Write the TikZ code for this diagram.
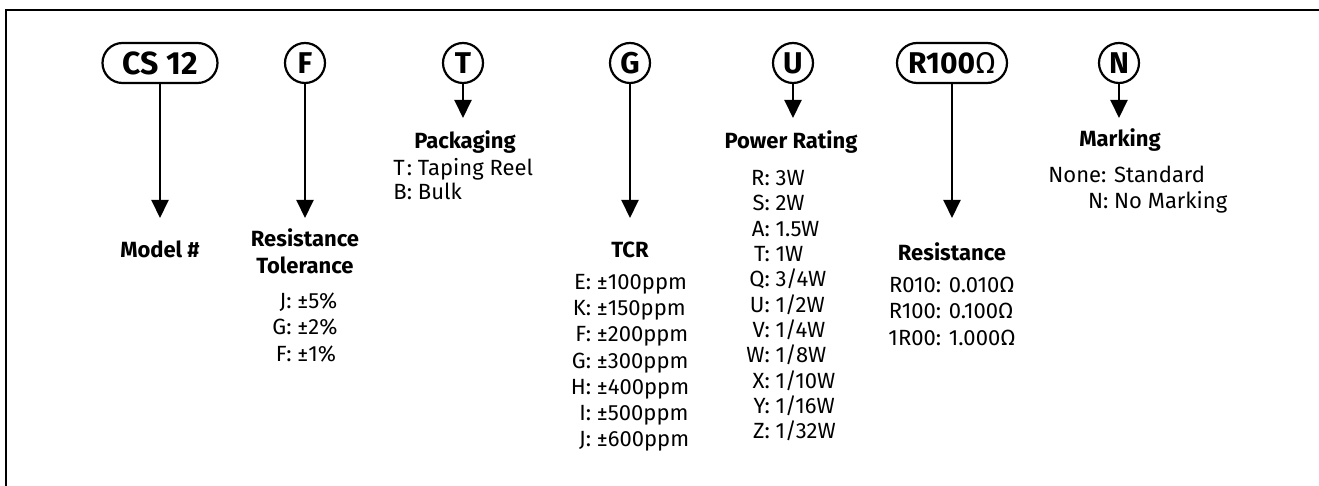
\documentclass[tikz,border=0pt]{standalone}
\usepackage{fontspec}
\setmainfont{Fira Sans}
\usetikzlibrary{arrows.meta,positioning}

\begin{document}
\begin{tikzpicture}[
  x=0.5pt, y=-0.5pt,
  >={Triangle[width=8.5pt,length=9pt]},
  code/.style={draw, circle, line width=1.1pt, minimum size=20pt, inner sep=0pt,
    font=\fontsize{15}{17}\selectfont\bfseries},
  pill/.style={draw, rounded corners=10pt, line width=1.1pt, minimum height=20pt,
    inner sep=0pt, font=\fontsize{15}{17}\selectfont\bfseries},
  title/.style={anchor=north, inner sep=0pt, align=center,
    font=\fontsize{11}{13.5}\selectfont\bfseries},
  list/.style={anchor=north, inner sep=0pt, font=\fontsize{11}{#1}\selectfont},
  list/.default=13.1,
  arrow/.style={->, line width=1pt, shorten >=#1},
  arrow/.default=5.5pt
]

% Frame (only top and left edges fall inside the page)
\useasboundingbox (0,0) rectangle (1319,486);
\draw[line width=1pt] (6,486) -- (6,10) -- (1319,10);

% Part number fields
\node[pill, minimum width=57.5pt, font=\fontsize{16}{18}\selectfont\bfseries] (cs) at (160,63) {CS 12};
\node[code] (tol) at (305,63) {F};
\node[code] (pkg) at (463,63) {T};
\node[code] (tcr) at (630,63) {G};
\node[code] (pwr) at (793,63) {U};
\node[pill, minimum width=55pt] (res) at (952,63) {R100\textmd{Ω}};
\node[code] (mrk) at (1119,63) {N};

% Field titles
\node[title] (csl) at (160,240) {Model \#};
\node[title] (toll) at (305,228) {Resistance\\Tolerance};
\node[title] (pkgl) at (465,130) {Packaging};
\node[title] (tcrl) at (630,241) {TCR};
\node[title] (pwrl) at (791,130) {Power Rating};
\node[title] (resl) at (952,242) {Resistance};
\node[title] (mrkl) at (1120,128) {Marking};

% Code tables
\node[list, below=8pt of toll] (tolv) {\begin{tabular}{@{}r@{: }l@{}}
  J & ±5\% \\ G & ±2\% \\ F & ±1\% \end{tabular}};
\node[list=12pt, anchor=north west] (pkgv) at (393,158) {\begin{tabular}{@{}l@{: }l@{}}
  T & Taping Reel \\ B & Bulk \end{tabular}};
\node[list, below=6.5pt of tcrl] (tcrv) {\begin{tabular}{@{}r@{: }l@{}}
  E & ±100ppm \\ K & ±150ppm \\ F & ±200ppm \\ G & ±300ppm \\
  H & ±400ppm \\ I & ±500ppm \\ J & ±600ppm \end{tabular}};
\node[list=12.65pt, below=7pt of pwrl] (pwrv) {\begin{tabular}{@{}r@{: }l@{}}
  R & 3W \\ S & 2W \\ A & 1.5W \\ T & 1W \\ Q & 3/4W \\ U & 1/2W \\
  V & 1/4W \\ W & 1/8W \\ X & 1/10W \\ Y & 1/16W \\ Z & 1/32W \end{tabular}};
\node[list, below=6.5pt of resl] (resv) {\begin{tabular}{@{}r@{: }l@{}}
  R010 & 0.010Ω \\ R100 & 0.100Ω \\ 1R00 & 1.000Ω \end{tabular}};
\node[list, anchor=north west] (mrkv) at (1048,164) {\begin{tabular}{@{}r@{: }l@{}}
  None & Standard \\ N & No Marking \end{tabular}};

% Field arrows
\draw[arrow=11pt] (cs) -- (cs |- csl.north);
\draw[arrow=5pt] (tol) -- (tol |- toll.north);
\draw[arrow=6pt] (pkg) -- (pkg |- pkgl.north);
\draw[arrow=11.5pt] (tcr) -- (tcr |- tcrl.north);
\draw[arrow=6pt] (pwr) -- (pwr |- pwrl.north);
\draw[arrow=12pt] (res) -- (res |- resl.north);
\draw[arrow=5pt] (mrk) -- (mrk |- mrkl.north);

\end{tikzpicture}
\end{document}
